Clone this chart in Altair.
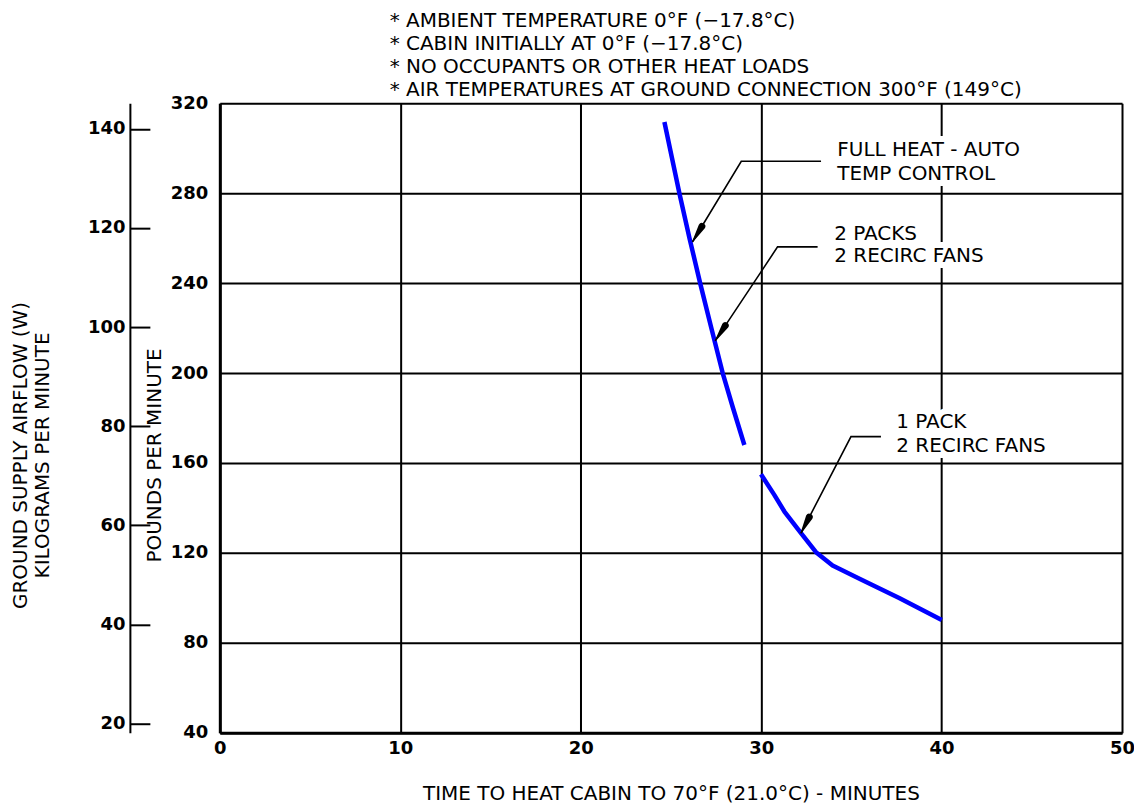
import altair as alt
import pandas as pd

# ---------------- data ----------------
upper_min = [24.64, 25.05, 25.47, 26.03, 26.62, 27.24, 27.87, 28.42, 29.07]
upper_lb = [311.7, 296.0, 280.0, 260.0, 240.0, 220.0, 200.0, 185.0, 168.0]

lower_min = [29.99, 30.73, 31.29, 32.21, 33.04, 33.96, 35.62, 37.65, 40.01]
lower_lb = [155.0, 145.8, 138.4, 128.8, 120.3, 114.4, 107.8, 99.9, 90.1]

x_ticks = [0, 10, 20, 30, 40, 50]
lb_ticks = [40, 80, 120, 160, 200, 240, 280, 320]
kg_ticks = [20, 40, 60, 80, 100, 120, 140]

notes = [
    "*  AMBIENT TEMPERATURE 0°F (−17.8°C)",
    "*  CABIN INITIALLY AT 0°F (−17.8°C)",
    "*  NO OCCUPANTS OR OTHER HEAT LOADS",
    "*  AIR TEMPERATURES AT GROUND CONNECTION 300°F (149°C)",
]

ann_text = ["FULL HEAT - AUTO", "TEMP CONTROL", "2 PACKS", "2 RECIRC FANS",
            "1 PACK", "2 RECIRC FANS"]
ann_x = [34.22, 34.22, 34.05, 34.05, 37.49, 37.49]
ann_y = [299.0, 288.5, 262.0, 252.0, 178.0, 167.5]

# leader lines: tip on curve -> elbow -> end of horizontal shoulder
leader_group = ["a", "a", "a", "b", "b", "b", "c", "c", "c"]
leader_x = [26.20, 28.90, 33.32, 27.46, 30.91, 33.13, 32.21, 34.98, 36.64]
leader_y = [258.4, 294.2, 294.2, 214.4, 256.1, 256.1, 128.8, 171.7, 171.7]

LB_TO_KG = 0.45359237

# ---------------- tables ----------------
curve_df = pd.DataFrame({
    "x": upper_min + lower_min,
    "y": upper_lb + lower_lb,
    "seg": ["full"] * len(upper_min) + ["one"] * len(lower_min),
    "o": list(range(len(upper_min))) + list(range(len(lower_min))),
})
leader_df = pd.DataFrame({
    "x": leader_x, "y": leader_y, "g": leader_group,
    "o": [0, 1, 2] * 3,
})

# arrowheads: tapered trail from the tip (width 0) back along the leader
head_frac = [0.19, 0.16, 0.165]
arrow_rows = []
for i in range(3):
    tx, ty = leader_x[3 * i], leader_y[3 * i]
    ex, ey = leader_x[3 * i + 1], leader_y[3 * i + 1]
    f = head_frac[i]
    arrow_rows.append({"x": tx, "y": ty, "w": 0.0, "g": leader_group[3 * i], "o": 0})
    arrow_rows.append({"x": tx + f * (ex - tx), "y": ty + f * (ey - ty),
                       "w": 7.0, "g": leader_group[3 * i], "o": 1})
arrow_df = pd.DataFrame(arrow_rows)
ann_df = pd.DataFrame({"x": ann_x, "y": ann_y, "t": ann_text})
kg_df = pd.DataFrame({"kg": kg_ticks})

FONT = "DejaVu Sans"
TXT = 20

xs = alt.Scale(domain=[0, 50], nice=False, zero=False)
ys = alt.Scale(domain=[40, 320], nice=False, zero=False)

X = alt.X("x:Q", scale=xs, axis=alt.Axis(
    values=x_ticks, grid=True, gridColor="black", gridWidth=2, gridOpacity=1,
    ticks=False, domain=True, domainColor="black", domainWidth=3,
    labelFont=FONT, labelFontSize=18, labelFontWeight="bold", labelColor="black",
    labelPadding=7, labelFlush=False,
    title="TIME TO HEAT CABIN TO 70°F (21.0°C) - MINUTES",
    titleFont=FONT, titleFontSize=TXT, titleFontWeight="normal", titleColor="black",
    titleY=61, titleBaseline="middle"))
Y = alt.Y("y:Q", scale=ys, axis=alt.Axis(
    orient="left", values=lb_ticks, grid=True, gridColor="black", gridWidth=2,
    gridOpacity=1, ticks=False, domain=True, domainColor="black", domainWidth=3,
    labelFont=FONT, labelFontSize=18, labelFontWeight="bold", labelColor="black",
    labelPadding=12, labelFlush=False,
    title="POUNDS PER MINUTE", titleFont=FONT, titleFontSize=TXT,
    titleFontWeight="normal", titleColor="black", titleAngle=270,
    titleAlign="center", titleBaseline="middle", titleX=-65, titleY=352))

curves = alt.Chart(curve_df).mark_line(
    color="#0000FF", strokeWidth=4.5, strokeJoin="round", strokeCap="butt").encode(
    x=X, y=Y, detail="seg:N", order="o:Q")
leaders = alt.Chart(leader_df).mark_line(color="black", strokeWidth=1.6).encode(
    x=X, y=Y, detail="g:N", order="o:Q")
arrows = alt.Chart(arrow_df).mark_trail(color="black", opacity=1).encode(
    x=X, y=Y, detail="g:N", order="o:Q",
    size=alt.Size("w:Q", scale=None, legend=None))
halo = alt.Chart(ann_df).mark_text(
    align="left", baseline="middle", font=FONT, fontSize=TXT, color="white",
    stroke="white", strokeWidth=12).encode(x=X, y=Y, text="t:N")
labels = alt.Chart(ann_df).mark_text(
    align="left", baseline="middle", font=FONT, fontSize=TXT, color="black").encode(
    x=X, y=Y, text="t:N")

lb_layer = alt.layer(curves, leaders, halo, labels, arrows)

kg_dom = [40 * LB_TO_KG, 320 * LB_TO_KG]
kg_scale = alt.Scale(domain=kg_dom, nice=False, zero=False)

kg_axis_line = alt.Chart(kg_df).mark_point(opacity=0).encode(
    y=alt.Y("kg:Q", scale=kg_scale, axis=alt.Axis(
        orient="left", offset=90, values=kg_ticks, ticks=False, tickSize=0,
        grid=False, domain=True, domainColor="black", domainWidth=2,
        labelFont=FONT, labelFontSize=18, labelFontWeight="bold",
        labelColor="black", labelPadding=5, labelFlush=False,
        title=["GROUND SUPPLY AIRFLOW (W)", "KILOGRAMS PER MINUTE"],
        titleFont=FONT, titleFontSize=TXT, titleFontWeight="normal",
        titleColor="black", titleAngle=270, titleAlign="center",
        titleBaseline="middle", titleLineHeight=22, titleX=-109, titleY=352)))
kg_axis_ticks = alt.Chart(kg_df).mark_point(opacity=0).encode(
    y=alt.Y("kg2:Q", scale=kg_scale, axis=alt.Axis(
        orient="left", offset=70, values=kg_ticks, ticks=True, tickSize=20,
        tickColor="black", tickWidth=2, grid=False, domain=False,
        labels=False, title=None))).transform_calculate(kg2="datum.kg")

chart = alt.layer(lb_layer, kg_axis_line, kg_axis_ticks).resolve_scale(
    y="independent"
).properties(
    width=903, height=630,
    padding={"left": 212, "top": 95, "right": 12, "bottom": 76},
    autosize=alt.AutoSizeParams(type="none"),
    title=alt.TitleParams(
        text=notes, anchor="start", dx=170, font=FONT, fontSize=TXT,
        fontWeight="normal", color="black", lineHeight=23, offset=-6,
        frame="group"),
).configure_view(stroke="black", strokeWidth=2).configure(background="white")

chart.save("out.html", embed_options={"renderer": "svg", "actions": False})
